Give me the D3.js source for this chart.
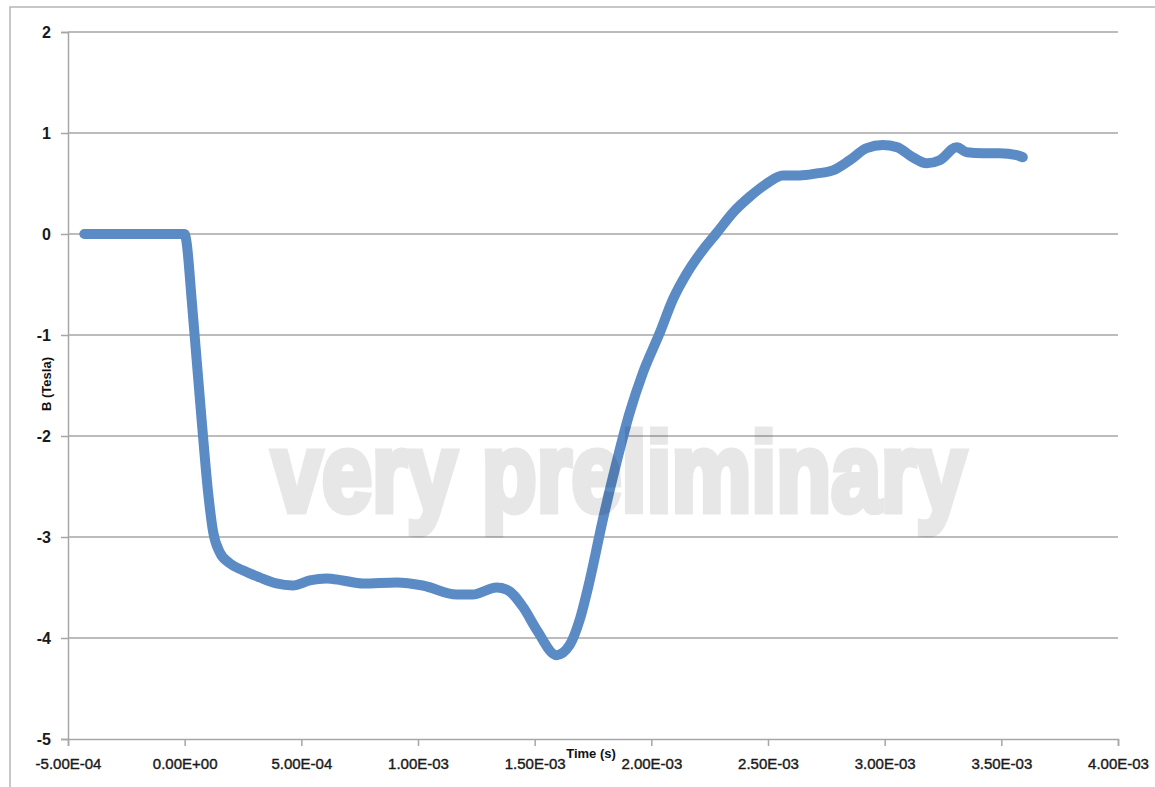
<!DOCTYPE html>
<html>
<head>
<meta charset="utf-8">
<script src="https://cdn.jsdelivr.net/npm/d3@7/dist/d3.min.js"></script>
<style>
  html, body { margin: 0; padding: 0; background: #fff; }
  svg { display: block; }
</style>
</head>
<body>
<svg id="chart" width="1155" height="787"></svg>
<script>
// ---- data (time in seconds, B in Tesla) ----
const timeS = [
  -4.3e-4, -3.0e-4, -1.5e-4, 0.0, 0.008e-3, 0.030e-3, 0.073e-3,
  0.100e-3, 0.122e-3, 0.150e-3, 0.193e-3, 0.249e-3, 0.321e-3, 0.393e-3, 0.463e-3,
  0.536e-3, 0.607e-3, 0.677e-3, 0.763e-3, 0.909e-3, 1.020e-3, 1.166e-3, 1.234e-3,
  1.337e-3, 1.380e-3, 1.449e-3, 1.509e-3, 1.594e-3, 1.650e-3, 1.693e-3, 1.736e-3,
  1.792e-3, 1.852e-3, 1.907e-3, 1.963e-3, 2.036e-3, 2.092e-3, 2.152e-3, 2.220e-3,
  2.280e-3, 2.349e-3, 2.422e-3, 2.495e-3, 2.563e-3, 2.636e-3, 2.709e-3, 2.778e-3,
  2.850e-3, 2.923e-3, 2.992e-3, 3.052e-3, 3.120e-3, 3.180e-3, 3.236e-3, 3.309e-3,
  3.352e-3, 3.420e-3, 3.493e-3, 3.566e-3, 3.592e-3
];
const bTesla = [
  0, 0, 0, 0, -0.08, -0.65, -1.85,
  -2.55, -2.95, -3.15, -3.26, -3.33, -3.40, -3.46, -3.48,
  -3.43, -3.41, -3.43, -3.46, -3.45, -3.48, -3.57, -3.57,
  -3.50, -3.52, -3.69, -3.92, -4.17, -4.07, -3.82, -3.43,
  -2.83, -2.25, -1.77, -1.38, -0.98, -0.65, -0.39, -0.16,
  0.01, 0.21, 0.37, 0.50, 0.58, 0.58, 0.60, 0.63,
  0.73, 0.85, 0.88, 0.86, 0.76, 0.70, 0.73, 0.86,
  0.81, 0.80, 0.80, 0.78, 0.76
];
const xTicks = [-5e-4, 0, 5e-4, 1e-3, 1.5e-3, 2e-3, 2.5e-3, 3e-3, 3.5e-3, 4e-3];
const xTickLabels = ["-5.00E-04", "0.00E+00", "5.00E-04", "1.00E-03", "1.50E-03",
                     "2.00E-03", "2.50E-03", "3.00E-03", "3.50E-03", "4.00E-03"];
const yTicks = [2, 1, 0, -1, -2, -3, -4, -5];
const xTitle = "Time (s)";
const yTitle = "B (Tesla)";
const watermark = "very preliminary";

// ---- layout ----
const svg = d3.select("#chart");
const mLeft = 68, mRight = 1118, mTop = 32, mBottom = 739;

const x = d3.scaleLinear().domain([-5e-4, 4e-3]).range([mLeft, mRight]);
const y = d3.scaleLinear().domain([-5, 2]).range([mBottom, mTop]);

// outer frame
svg.append("rect")
  .attr("x", 10).attr("y", 7).attr("width", 1200).attr("height", 850)
  .attr("fill", "none").attr("stroke", "#b5b5b5").attr("stroke-width", 1.5);

// horizontal gridlines
svg.append("g").selectAll("line").data(yTicks.filter(d => d !== -5)).join("line")
  .attr("x1", mLeft).attr("x2", mRight)
  .attr("y1", d => y(d)).attr("y2", d => y(d))
  .attr("stroke", "#a6a6a6").attr("stroke-width", 1.5);

// y axis
const yAxis = svg.append("g").attr("transform", `translate(${mLeft},0)`)
  .call(d3.axisLeft(y).tickValues(yTicks).tickSize(7).tickPadding(10).tickFormat(d3.format("d")));
yAxis.select(".domain").attr("stroke", "#a6a6a6").attr("stroke-width", 1.5);
yAxis.selectAll(".tick line").attr("stroke", "#a6a6a6").attr("stroke-width", 1.5);
yAxis.selectAll(".tick text")
  .attr("font-family", "Liberation Sans, Arial, sans-serif")
  .attr("font-size", 16).attr("font-weight", "bold").attr("fill", "#1a1a1a")
  .text(d => d < 0 ? "-" + Math.abs(d) : d);

// x axis
const xAxis = svg.append("g").attr("transform", `translate(0,${mBottom})`)
  .call(d3.axisBottom(x).tickValues(xTicks).tickSize(7).tickPadding(12)
    .tickFormat((d, i) => xTickLabels[i]));
xAxis.select(".domain").attr("stroke", "#a6a6a6").attr("stroke-width", 1.5);
xAxis.selectAll(".tick line").attr("stroke", "#a6a6a6").attr("stroke-width", 1.5);
xAxis.selectAll(".tick text")
  .attr("font-family", "Liberation Sans, Arial, sans-serif")
  .attr("font-size", 15).attr("fill", "#1a1a1a")
  .attr("stroke", "#1a1a1a").attr("stroke-width", 0.4);

// data curve
const pts = timeS.map((t, i) => [t, bTesla[i]]);
svg.append("path")
  .datum(pts)
  .attr("d", d3.line().x(d => x(d[0])).y(d => y(d[1])).curve(d3.curveMonotoneX))
  .attr("fill", "none")
  .attr("stroke", "#5a8bc5")
  .attr("stroke-width", 10)
  .attr("stroke-linecap", "round")
  .attr("stroke-linejoin", "round");

// axis titles
svg.append("text")
  .attr("x", 591).attr("y", 758)
  .attr("text-anchor", "middle")
  .attr("font-family", "Liberation Sans, Arial, sans-serif")
  .attr("font-size", 13).attr("font-weight", "bold").attr("fill", "#111")
  .text(xTitle);

svg.append("text")
  .attr("transform", "translate(51,384) rotate(-90)")
  .attr("text-anchor", "middle")
  .attr("font-family", "Liberation Sans, Arial, sans-serif")
  .attr("font-size", 13).attr("font-weight", "bold").attr("fill", "#111")
  .text(yTitle);

// watermark (semi-transparent, drawn on top, thickened with a stroke)
svg.append("g").attr("opacity", 0.09)
  .append("text")
  .attr("x", 272).attr("y", 511)
  .attr("textLength", 694).attr("lengthAdjust", "spacingAndGlyphs")
  .attr("font-family", "Liberation Sans, Arial, sans-serif")
  .attr("font-size", 112).attr("font-weight", "bold")
  .attr("fill", "#000").attr("stroke", "#000").attr("stroke-width", 7)
  .attr("stroke-linejoin", "miter")
  .text(watermark);
</script>
</body>
</html>
